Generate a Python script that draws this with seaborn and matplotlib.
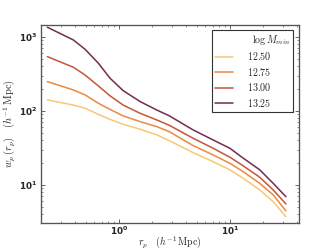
import numpy as np
import pandas as pd
import seaborn as sns
import matplotlib.pyplot as plt
from matplotlib.ticker import FuncFormatter, LogLocator

# projected separation (h^-1 Mpc)
rp = [0.226, 0.388, 0.494, 0.651, 0.830, 1.09, 1.55, 2.19, 2.84,
      4.67, 7.07, 10.0, 13.2, 18.6, 24.6, 32.0]

# w_p(r_p) for each log M_min threshold
wp_1250 = [141, 120, 109, 90, 77, 66, 56.6, 47.5, 39.7,
           27.3, 20.6, 16.0, 12.3, 8.55, 5.94, 3.73]
wp_1275 = [249, 192, 165, 127, 105, 85.6, 71.7, 61.4, 52.5,
           34.0, 25.4, 19.6, 15.1, 10.5, 7.33, 4.46]
wp_1300 = [542, 389, 306, 218, 160, 120, 93, 75.6, 64,
           42.7, 31.3, 23.7, 18.1, 12.7, 8.55, 5.53]
wp_1325 = [1352, 910, 682, 442, 277, 188, 134, 103, 86,
           55.3, 40.5, 31.3, 23.0, 16.0, 10.5, 6.95]

labels = ['12.50', '12.75', '13.00', '13.25']
colors = ['#f7c877', '#eb8a42', '#c9573a', '#723050']

df = pd.concat([
    pd.DataFrame({'rp': rp, 'wp': w, 'logM': lab})
    for w, lab in zip([wp_1250, wp_1275, wp_1300, wp_1325], labels)
])

sns.set_style('ticks')
plt.rcParams['mathtext.fontset'] = 'dejavusans'
plt.rcParams['xtick.direction'] = 'in'
plt.rcParams['ytick.direction'] = 'in'

fig = plt.figure(figsize=(332 / 80, 249 / 80), dpi=80)
ax = fig.add_axes([0.1235, 0.1044, 0.7771, 0.7952])

sns.lineplot(data=df, x='rp', y='wp', hue='logM', palette=colors,
             linewidth=1.4, ax=ax)

ax.set_xscale('log')
ax.set_yscale('log')
ax.set_xlim(0.198, 42)
ax.set_ylim(3.06, 1450)

fmt = FuncFormatter(lambda v, p: r'$\mathbf{10^{%d}}$' % round(np.log10(v)))
ax.xaxis.set_major_formatter(fmt)
ax.yaxis.set_major_formatter(fmt)
ax.xaxis.set_minor_locator(LogLocator(base=10, subs=np.arange(2, 10)))
ax.yaxis.set_minor_locator(LogLocator(base=10, subs=np.arange(2, 10)))
ax.tick_params(which='both', top=True, right=True, labelsize=8,
               color='#555555')
ax.tick_params(which='major', length=4, width=0.8)
ax.tick_params(which='minor', length=2, width=0.6)
ax.tick_params(axis='x', which='major', pad=1.5)
for s in ax.spines.values():
    s.set_color('#555555')
    s.set_linewidth(1.2)

ax.set_xlabel(r'$r_p \quad (h^{-1}\,\mathrm{Mpc})$', fontsize=9,
              math_fontfamily='cm', labelpad=-2.5)
ax.set_ylabel(r'$w_p\,(r_p) \quad (h^{-1}\,\mathrm{Mpc})$', fontsize=9.5,
              math_fontfamily='cm', labelpad=1.5)

leg = ax.legend(title=r'$\log M_{min}$', fontsize=9, title_fontsize=9,
                loc='upper left', bbox_to_anchor=(0.662, 0.5, 0.316, 0.475),
                mode='expand', borderaxespad=0,
                fancybox=False, edgecolor='#333333',
                framealpha=1, handlelength=1.8, borderpad=0.3,
                labelspacing=0.35, handletextpad=1.4)
leg.get_frame().set_linewidth(1.0)
for t, lab in zip(leg.get_texts(), labels):
    t.set_text('$%s$' % lab)
    t.set_math_fontfamily('cm')
leg.get_title().set_math_fontfamily('cm')
leg._legend_box.align = 'right'

fig.savefig('out.png', dpi=80)
